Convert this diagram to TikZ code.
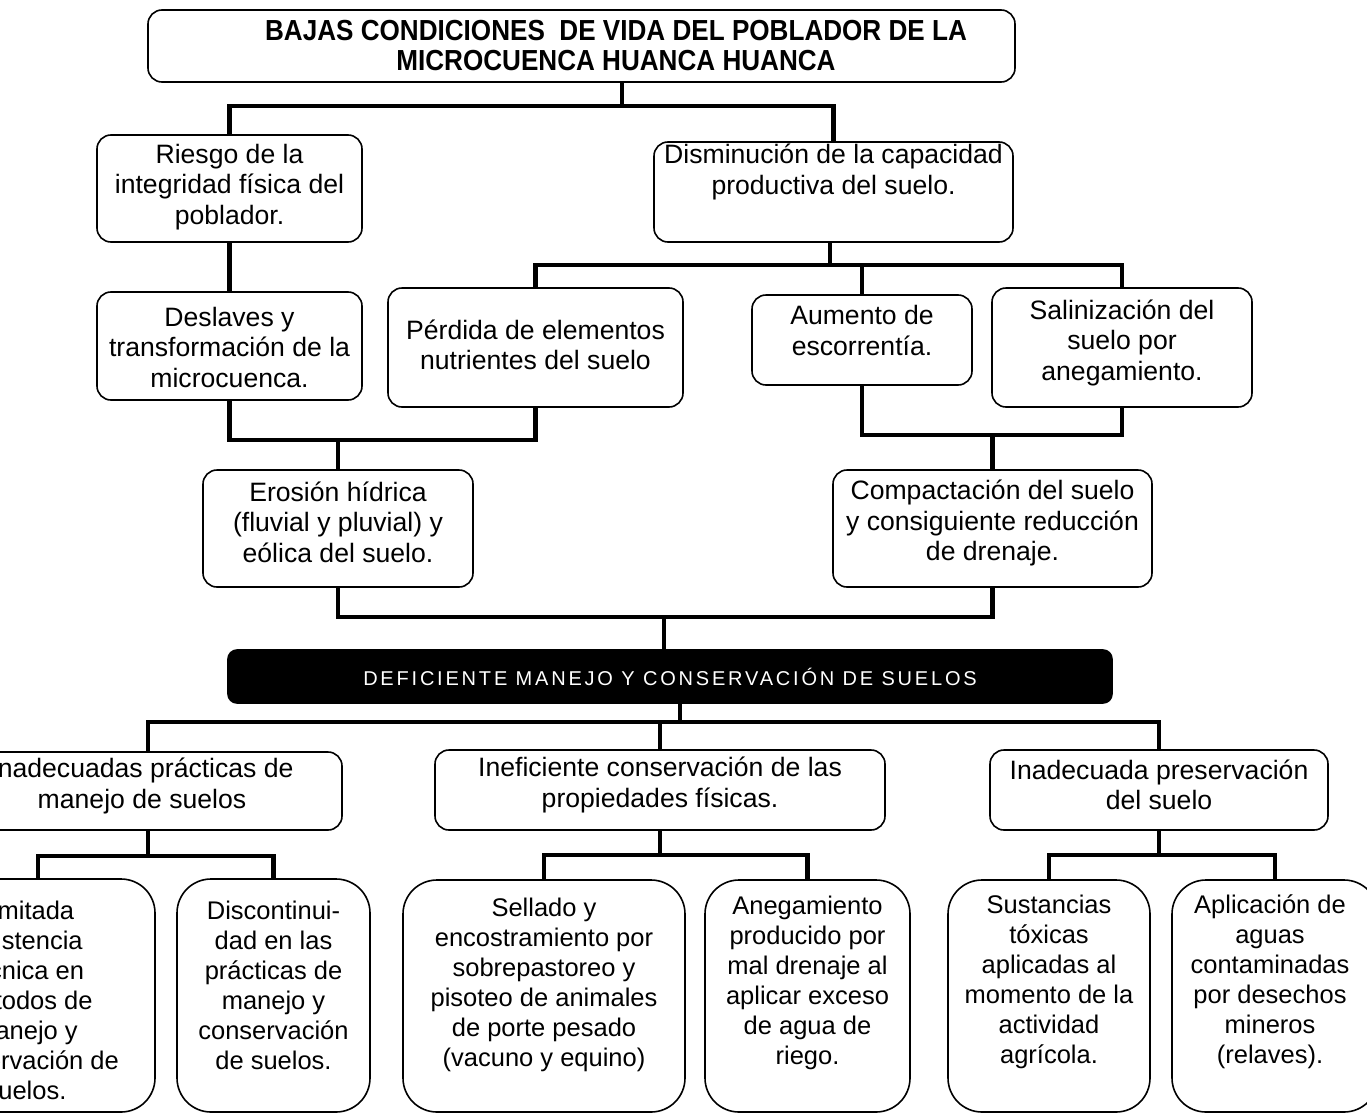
\documentclass[tikz,border=0pt]{standalone}
\usepackage{fontspec}
\setmainfont{Liberation Sans}
\newfontfamily\spacedfont[LetterSpace=14]{Liberation Sans}
\newfontfamily\titlefont[FakeStretch=0.9]{Liberation Sans}
\newcommand\mkbox[6]{\node[#1, minimum width={#5-#3}, minimum height={#6-#4}] (#2) at ({(#3+#5)/2},{(#4+#6)/2}) {};}
\begin{document}
\begin{tikzpicture}[x=1pt,y=-1pt,
  box/.style={draw, line width=1.6pt, rounded corners=14pt, fill=white, inner sep=0},
  tallbox/.style={box, rounded corners=34pt},
  darkbox/.style={draw, line width=1.6pt, rounded corners=9pt, fill=black, inner sep=0},
  txt/.style={align=center, inner sep=0, font=\fontsize{26.6}{30.5}\selectfont},
  btxt/.style={align=center, inner sep=0, font=\fontsize{25.5}{30}\selectfont},
  ttl/.style={align=center, inner sep=0, font=\titlefont\fontsize{29}{30}\selectfont\bfseries},
  conn/.style={line width=4.5pt, line join=miter}]
\useasboundingbox (0,0) rectangle (1367,1116);
\fill[white] (0,0) rectangle (1367,1116);
\clip (0,0) rectangle (1367,1116);

% boxes
\mkbox{box}{top}{148}{10}{1015}{82}
\mkbox{box}{riesgo}{97}{135}{362}{242}
\mkbox{box}{dism}{654}{142}{1013}{242}
\mkbox{box}{deslaves}{97}{292}{362}{400}
\mkbox{box}{perdida}{388}{288}{683}{407}
\mkbox{box}{aumento}{752}{295}{972}{385}
\mkbox{box}{salin}{992}{288}{1252}{407}
\mkbox{box}{erosion}{203}{470}{473}{587}
\mkbox{box}{compact}{833}{470}{1152}{587}
\mkbox{darkbox}{dark}{228}{650}{1112}{703}
\mkbox{box}{inad}{-46}{752}{342}{830}
\mkbox{box}{inef}{435}{750}{885}{830}
\mkbox{box}{pres}{990}{750}{1328}{830}
\mkbox{tallbox}{limit}{-79}{879}{155}{1112}
\mkbox{tallbox}{discont}{177}{879}{370}{1112}
\mkbox{tallbox}{sellado}{403}{880}{685}{1112}
\mkbox{tallbox}{aneg}{705}{880}{910}{1112}
\mkbox{tallbox}{sust}{948}{880}{1150}{1112}
\mkbox{tallbox}{aplic}{1172}{880}{1378}{1112}

% texts
\node[ttl] (top-t) at (616,46) {BAJAS CONDICIONES \ DE VIDA DEL POBLADOR DE LA\\MICROCUENCA HUANCA HUANCA};
\node[txt] (riesgo-t) at (229.5,187) {Riesgo de la\\integridad física del\\poblador.};
\node[txt] (dism-t) at (833.5,172) {Disminución de la capacidad\\productiva del suelo.};
\node[txt] (deslaves-t) at (229.5,347) {Deslaves y\\transformación de la\\microcuenca.};
\node[txt] (perdida-t) at (535.5,345) {Pérdida de elementos\\nutrientes del suelo};
\node[txt] (aumento-t) at (862,330.5) {Aumento de\\escorrentía.};
\node[txt] (salin-t) at (1122,342.5) {Salinización del\\suelo por\\anegamiento.};
\node[txt] (erosion-t) at (338,522) {Erosión hídrica\\(fluvial y pluvial) y\\eólica del suelo.};
\node[txt] (compact-t) at (992.5,523) {Compactación del suelo\\y consiguiente reducción\\de drenaje.};
\node[inner sep=0, text=white, font=\fontsize{20}{24}\selectfont\spacedfont] (dark-t) at (670,676.5) {DEFICIENTE MANEJO Y CONSERVACIÓN DE SUELOS};
\node[txt] (inad-t) at (142,786) {Inadecuadas prácticas de\\manejo de suelos};
\node[txt] (inef-t) at (660,785) {Ineficiente conservación de las\\propiedades físicas.};
\node[txt] (pres-t) at (1159,785) {Inadecuada preservación\\del suelo};
\node[btxt] (limit-t) at (26,1000) {Limitada\\asistencia\\técnica en\\métodos de\\manejo y\\conservación de\\suelos.};
\node[btxt] (discont-t) at (273.5,985) {Discontinui-\\dad en las\\prácticas de\\manejo y\\conservación\\de suelos.};
\node[btxt] (sellado-t) at (544,985) {Sellado y\\encostramiento por\\sobrepastoreo y\\pisoteo de animales\\de porte pesado\\(vacuno y equino)};
\node[btxt] (aneg-t) at (807.5,983) {Anegamiento\\producido por\\mal drenaje al\\aplicar exceso\\de agua de\\riego.};
\node[btxt] (sust-t) at (1049,982) {Sustancias\\tóxicas\\aplicadas al\\momento de la\\actividad\\agrícola.};
\node[btxt] (aplic-t) at (1270,982) {Aplicación de\\aguas\\contaminadas\\por desechos\\mineros\\(relaves).};

% connectors
\coordinate (j1) at (622,106);
\draw[conn] (top.south -| j1) -- (j1);
\draw[conn] (riesgo.north) |- (dism.north |- j1) -- (dism.north);
\draw[conn] (riesgo.south) -- (deslaves.north);

\coordinate (j2) at (830,265);
\draw[conn] (dism.south -| j2) -- (j2);
\draw[conn] (perdida.north) |- (salin.north |- j2) -- (salin.north);
\draw[conn] (aumento.north) -- (aumento.north |- j2);

\coordinate (j3) at (338,440);
\draw[conn] (deslaves.south) |- (perdida.south |- j3) -- (perdida.south);
\draw[conn] (j3) -- (erosion.north);

\coordinate (j4) at (992.5,435);
\draw[conn] (aumento.south) |- (salin.south |- j4) -- (salin.south);
\draw[conn] (j4) -- (compact.north);

\coordinate (j5) at (664,617);
\draw[conn] (erosion.south) |- (compact.south |- j5) -- (compact.south);
\draw[conn] (j5) -- (dark.north -| j5);

\coordinate (j6) at (680,722);
\draw[conn] (dark.south -| j6) -- (j6);
\draw[conn] (inad.north) |- (pres.north |- j6) -- (pres.north);
\draw[conn] (inef.north) -- (inef.north |- j6);

\coordinate (j7) at (148,856);
\draw[conn] (inad.south) -- (j7);
\draw[conn] (limit.north) |- (discont.north |- j7) -- (discont.north);

\coordinate (j8) at (660,855);
\draw[conn] (inef.south) -- (j8);
\draw[conn] (sellado.north) |- (aneg.north |- j8) -- (aneg.north);

\coordinate (j9) at (1159,855);
\draw[conn] (pres.south) -- (j9);
\draw[conn] (sust.north) |- (aplic.north |- j9) -- (aplic.north);
\end{tikzpicture}
\end{document}
